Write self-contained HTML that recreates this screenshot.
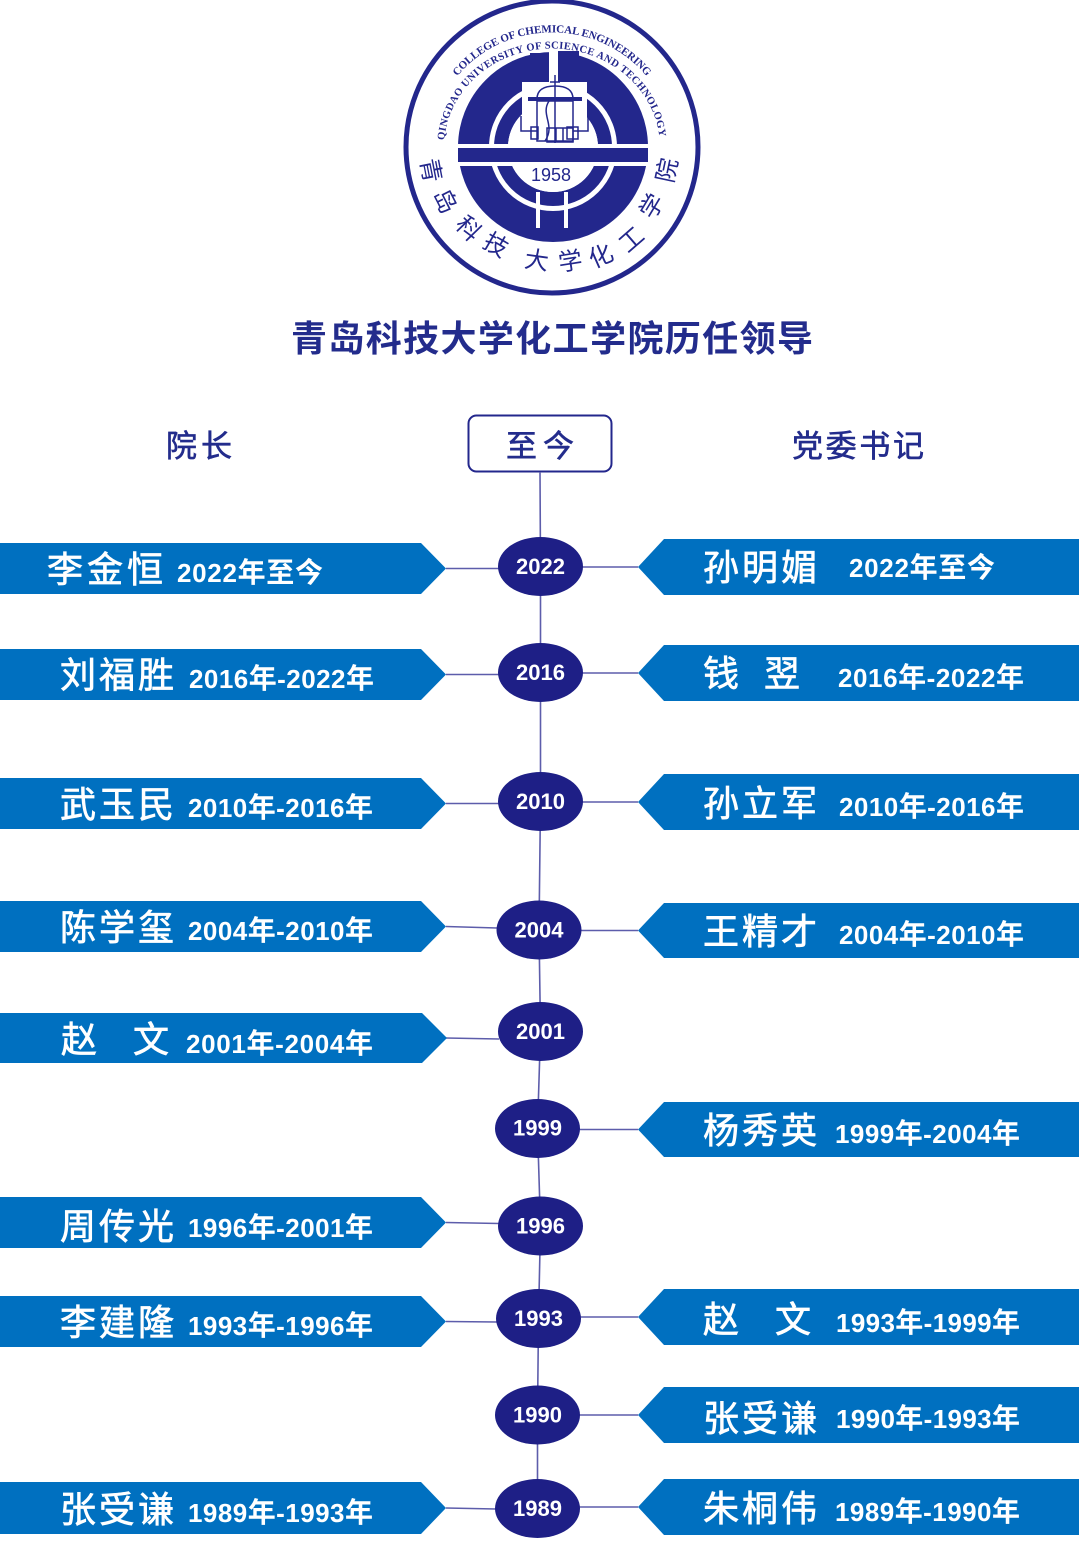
<!DOCTYPE html>
<html>
<head>
<meta charset="utf-8">
<style>
html,body{margin:0;padding:0;background:#fff;}
svg{display:block;}
</style>
</head>
<body>
<svg width="1079" height="1554" viewBox="0 0 1079 1554" xmlns="http://www.w3.org/2000/svg" font-family="'Liberation Sans','Noto Sans CJK SC',sans-serif">

<!-- ================= LOGO ================= -->
<g>
  <circle cx="552" cy="147" r="146" fill="#fff" stroke="#23278c" stroke-width="5"/>
  <!-- bands -->
  <circle cx="553" cy="147" r="79.5" fill="none" stroke="#23278c" stroke-width="31"/>
  <circle cx="553" cy="147" r="52" fill="none" stroke="#23278c" stroke-width="14"/>
  <!-- interior -->
  <circle cx="553" cy="147" r="45" fill="#fff"/>
  <rect x="522" y="82" width="65" height="65" fill="#fff"/>
  <!-- top bars -->
  <rect x="530" y="53" width="19" height="29" fill="#23278c"/>
  <rect x="558" y="51" width="21" height="31" fill="#23278c"/>
  <rect x="549" y="48" width="9" height="37" fill="#fff"/>
  <!-- horizontal bar -->
  <rect x="450" y="144" width="205" height="22" fill="#fff"/>
  <rect x="458" y="148" width="190" height="14" fill="#23278c"/>
  <!-- bottom stem gaps -->
  <rect x="536" y="192" width="4" height="36" fill="#fff"/>
  <rect x="564" y="192" width="4" height="36" fill="#fff"/>
  <!-- reactor drawing -->
  <g fill="none" stroke="#23278c" stroke-width="1.5">
    <line x1="555" y1="75" x2="555" y2="143"/>
    <line x1="550" y1="82" x2="560" y2="82"/>
    <path d="M 537 99 Q 537 86 555 86 Q 573 86 573 99"/>
    <rect x="537" y="101" width="36" height="40"/>
    <path d="M 549 101 C 540 115, 556 125, 545 141"/>
    <polyline points="537,131 521,131 521,116"/>
    <polyline points="573,131 588,131 588,116"/>
    <rect x="531" y="127" width="7" height="12"/>
    <rect x="567" y="127" width="11" height="12"/>
    <rect x="547" y="128" width="26" height="14"/>
    <line x1="556" y1="128" x2="556" y2="142"/>
    <line x1="563" y1="128" x2="563" y2="142"/>
  </g>
  <rect x="528" y="97" width="54" height="4" fill="#23278c"/>
  <text x="551" y="181" text-anchor="middle" font-size="18" fill="#23278c" font-family="'Liberation Sans',sans-serif">1958</text>

  <!-- English arc texts -->
  <defs>
    <path id="arcOuter" d="M 457.3 76.4 A 120 114 0 0 1 648.0 78.0"/>
    <path id="arcInner" d="M 444.3 140.1 A 108 99 0 0 1 659.7 140.1"/>
  </defs>
  <text font-family="'Liberation Serif',serif" font-weight="bold" font-size="11" fill="#23278c" letter-spacing="-0.1"><textPath href="#arcOuter">COLLEGE OF CHEMICAL ENGINEERING</textPath></text>
  <text font-family="'Liberation Serif',serif" font-weight="bold" font-size="10.5" fill="#23278c" letter-spacing="0.4"><textPath href="#arcInner">QINGDAO UNIVERSITY OF SCIENCE AND TECHNOLOGY</textPath></text>

  <!-- Chinese ring text -->
  <g font-family="'Noto Sans CJK SC',sans-serif" font-size="24" fill="#23278c" text-anchor="middle" dominant-baseline="central">
    <text transform="translate(433,170) rotate(79)">青</text>
    <text transform="translate(447,200) rotate(63)">岛</text>
    <text transform="translate(470,227) rotate(46)">科</text>
    <text transform="translate(497,243) rotate(30)">技</text>
    <text transform="translate(537,258) rotate(8)">大</text>
    <text transform="translate(570,259) rotate(-9)">学</text>
    <text transform="translate(600,254) rotate(-24)">化</text>
    <text transform="translate(630,238) rotate(-41)">工</text>
    <text transform="translate(650,205) rotate(-59)">学</text>
    <text transform="translate(665,170) rotate(-78)">院</text>
  </g>
</g>

<!-- ================= TITLE ================= -->
<text x="291" y="351" font-size="36" font-weight="bold" fill="#232c8c" textLength="522" font-family="'Noto Sans CJK SC',sans-serif">青岛科技大学化工学院历任领导</text>

<!-- headers -->
<g fill="#232c8c" stroke="#232c8c" stroke-width="0.6" font-size="31" font-family="'Noto Sans CJK SC',sans-serif">
  <text x="166" y="457" textLength="66">院长</text>
  <text x="792" y="457" textLength="132">党委书记</text>
</g>
<rect x="468.5" y="415.5" width="143" height="56" rx="8" ry="8" fill="#fff" stroke="#23278c" stroke-width="2"/>
<text x="506" y="457" font-size="31" fill="#232c8c" stroke="#232c8c" stroke-width="0.6" textLength="68" font-family="'Noto Sans CJK SC',sans-serif">至今</text>

<!-- ================= CONNECTORS ================= -->
<g stroke="#5d5dab" stroke-width="1.6" fill="none">
  <polyline points="540,472 540.5,566.5 540.5,672.5 540.5,801.5 539,930 540.5,1031.5 537.5,1128.5 540.5,1226 538.5,1318.5 537.5,1415 537.5,1508.5"/>
  <!-- left -->
  <line x1="446" y1="568.5" x2="499" y2="568.5"/>
  <line x1="446" y1="674.5" x2="499" y2="674.5"/>
  <line x1="446" y1="803.5" x2="499" y2="803.5"/>
  <line x1="446" y1="926.5" x2="497" y2="928"/>
  <line x1="446" y1="1038" x2="499" y2="1039"/>
  <line x1="446" y1="1222.5" x2="499" y2="1223.5"/>
  <line x1="446" y1="1321.5" x2="497" y2="1322"/>
  <line x1="446" y1="1508" x2="496" y2="1509"/>
  <!-- right -->
  <line x1="582" y1="567" x2="638" y2="567"/>
  <line x1="582" y1="673" x2="638" y2="673"/>
  <line x1="582" y1="802" x2="638" y2="802"/>
  <line x1="580" y1="930.5" x2="638" y2="930.5"/>
  <line x1="579" y1="1129.5" x2="638" y2="1129.5"/>
  <line x1="580" y1="1317" x2="638" y2="1317"/>
  <line x1="579" y1="1415" x2="638" y2="1415"/>
  <line x1="579" y1="1507" x2="638" y2="1507"/>
</g>

<!-- ================= ELLIPSES ================= -->
<g fill="#1e1f86">
  <ellipse cx="540.5" cy="566.5" rx="42.5" ry="29.5"/>
  <ellipse cx="540.5" cy="672.5" rx="42.5" ry="29.5"/>
  <ellipse cx="540.5" cy="801.5" rx="42.5" ry="29.5"/>
  <ellipse cx="539" cy="930" rx="42.5" ry="29.5"/>
  <ellipse cx="540.5" cy="1031.5" rx="42.5" ry="29.5"/>
  <ellipse cx="537.5" cy="1128.5" rx="42.5" ry="29.5"/>
  <ellipse cx="540.5" cy="1226" rx="42.5" ry="29.5"/>
  <ellipse cx="538.5" cy="1318.5" rx="42.5" ry="29.5"/>
  <ellipse cx="537.5" cy="1415" rx="42.5" ry="29.5"/>
  <ellipse cx="537.5" cy="1508.5" rx="42.5" ry="29.5"/>
</g>
<g fill="#fff" font-size="22" font-weight="bold" text-anchor="middle" font-family="'Liberation Sans',sans-serif">
  <text x="540.5" y="574">2022</text>
  <text x="540.5" y="680">2016</text>
  <text x="540.5" y="809">2010</text>
  <text x="539" y="937.5">2004</text>
  <text x="540.5" y="1039">2001</text>
  <text x="537.5" y="1135.5">1999</text>
  <text x="540.5" y="1233.5">1996</text>
  <text x="538.5" y="1326">1993</text>
  <text x="537.5" y="1422.5">1990</text>
  <text x="537.5" y="1516">1989</text>
</g>

<!-- ================= LEFT BANNERS ================= -->
<g fill="#0070c0">
  <polygon points="0,543 421,543 446,568.5 421,594 0,594"/>
  <polygon points="0,649 421,649 446,674.5 421,700 0,700"/>
  <polygon points="0,778 421,778 446,803.5 421,829 0,829"/>
  <polygon points="0,901 421,901 446,926.5 421,952 0,952"/>
  <polygon points="0,1013 422,1013 447,1038 422,1063 0,1063"/>
  <polygon points="0,1197 421,1197 446,1222.5 421,1248 0,1248"/>
  <polygon points="0,1296 421,1296 446,1321.5 421,1347 0,1347"/>
  <polygon points="0,1482 421,1482 446,1508 421,1534 0,1534"/>
</g>

<!-- ================= RIGHT BANNERS ================= -->
<g fill="#0070c0">
  <polygon points="1079,539 664,539 638,567 664,595 1079,595"/>
  <polygon points="1079,645 664,645 638,673 664,701 1079,701"/>
  <polygon points="1079,774 664,774 638,802 664,830 1079,830"/>
  <polygon points="1079,903 664,903 638,930.5 664,958 1079,958"/>
  <polygon points="1079,1102 664,1102 638,1129.5 664,1157 1079,1157"/>
  <polygon points="1079,1289 664,1289 638,1317 664,1345 1079,1345"/>
  <polygon points="1079,1387 664,1387 638,1415 664,1443 1079,1443"/>
  <polygon points="1079,1479 664,1479 638,1507 664,1535 1079,1535"/>
</g>

<!-- names -->
<g fill="#fff" stroke="#fff" stroke-width="0.7" font-size="36" font-family="'Noto Sans CJK SC',sans-serif">
  <!-- left -->
  <text x="47" y="582" textLength="116">李金恒</text>
  <text x="60" y="687.5" textLength="114">刘福胜</text>
  <text x="60" y="817" textLength="114">武玉民</text>
  <text x="60" y="940" textLength="114">陈学玺</text>
  <text x="61" y="1052">赵</text>
  <text x="133" y="1052">文</text>
  <text x="60" y="1239" textLength="114">周传光</text>
  <text x="60" y="1335" textLength="114">李建隆</text>
  <text x="60" y="1522" textLength="114">张受谦</text>
  <!-- right -->
  <text x="703" y="580" textLength="114">孙明媚</text>
  <text x="703" y="686">钱</text>
  <text x="764" y="686">翌</text>
  <text x="703" y="816" textLength="114">孙立军</text>
  <text x="703" y="944" textLength="114">王精才</text>
  <text x="703" y="1143" textLength="114">杨秀英</text>
  <text x="703" y="1332">赵</text>
  <text x="775" y="1332">文</text>
  <text x="703" y="1431" textLength="114">张受谦</text>
  <text x="703" y="1521" textLength="114">朱桐伟</text>
</g>

<!-- dates -->
<g fill="#fff" font-size="26" font-weight="bold">
  <!-- left -->
  <text x="177" y="582" textLength="146">2022<tspan font-size="28">年至今</tspan></text>
  <text x="189" y="688" textLength="185">2016<tspan font-size="28">年</tspan>-2022<tspan font-size="28">年</tspan></text>
  <text x="188" y="817" textLength="185">2010<tspan font-size="28">年</tspan>-2016<tspan font-size="28">年</tspan></text>
  <text x="188" y="940" textLength="185">2004<tspan font-size="28">年</tspan>-2010<tspan font-size="28">年</tspan></text>
  <text x="186" y="1053" textLength="187">2001<tspan font-size="28">年</tspan>-2004<tspan font-size="28">年</tspan></text>
  <text x="188" y="1237" textLength="185">1996<tspan font-size="28">年</tspan>-2001<tspan font-size="28">年</tspan></text>
  <text x="188" y="1335" textLength="185">1993<tspan font-size="28">年</tspan>-1996<tspan font-size="28">年</tspan></text>
  <text x="188" y="1522" textLength="185">1989<tspan font-size="28">年</tspan>-1993<tspan font-size="28">年</tspan></text>
  <!-- right -->
  <text x="849" y="577" textLength="146">2022<tspan font-size="28">年至今</tspan></text>
  <text x="838" y="687" textLength="186">2016<tspan font-size="28">年</tspan>-2022<tspan font-size="28">年</tspan></text>
  <text x="839" y="816" textLength="185">2010<tspan font-size="28">年</tspan>-2016<tspan font-size="28">年</tspan></text>
  <text x="839" y="944" textLength="185">2004<tspan font-size="28">年</tspan>-2010<tspan font-size="28">年</tspan></text>
  <text x="835" y="1143" textLength="185">1999<tspan font-size="28">年</tspan>-2004<tspan font-size="28">年</tspan></text>
  <text x="836" y="1332" textLength="184">1993<tspan font-size="28">年</tspan>-1999<tspan font-size="28">年</tspan></text>
  <text x="836" y="1428" textLength="184">1990<tspan font-size="28">年</tspan>-1993<tspan font-size="28">年</tspan></text>
  <text x="835" y="1521" textLength="185">1989<tspan font-size="28">年</tspan>-1990<tspan font-size="28">年</tspan></text>
</g>

</svg>
</body>
</html>
